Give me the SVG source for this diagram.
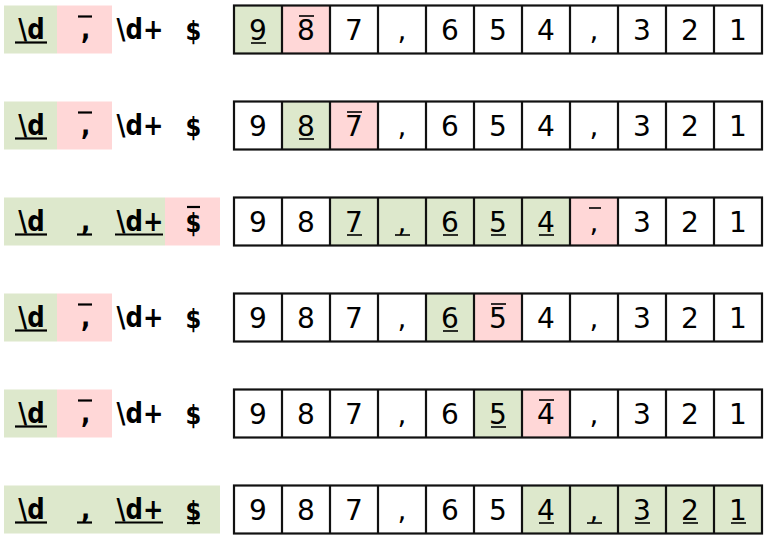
<svg xmlns="http://www.w3.org/2000/svg" width="767" height="537" viewBox="0 0 767 537">
<style>
.g{fill:#dde8cc}
.p{fill:#ffd7d7}
.grid{fill:none;stroke:#111;stroke-width:2.2}
.pt{font-family:"DejaVu Sans",sans-serif;font-weight:bold;font-size:28px;fill:#000;text-anchor:middle}
.ds{font-size:26px}
.ct{font-family:"DejaVu Sans",sans-serif;font-size:28px;fill:#000;text-anchor:middle}
.ul{stroke:#000;stroke-width:2.2}
.dl{stroke:#000;stroke-width:1.6}
</style>
<defs>
<g id="gridlines">
<rect class="grid" x="234" y="0" width="528" height="48"/>
<path class="grid" d="M282 0V48M330 0V48M378 0V48M426 0V48M474 0V48M522 0V48M570 0V48M618 0V48M666 0V48M714 0V48"/>
</g>
<g id="digits">
<text class="ct" x="258" y="34">9</text>
<text class="ct" x="306" y="34">8</text>
<text class="ct" x="354" y="34">7</text>
<text class="ct" x="402" y="34">,</text>
<text class="ct" x="450" y="34">6</text>
<text class="ct" x="498" y="34">5</text>
<text class="ct" x="546" y="34">4</text>
<text class="ct" x="594" y="34">,</text>
<text class="ct" x="642" y="34">3</text>
<text class="ct" x="690" y="34">2</text>
<text class="ct" x="738" y="34">1</text>
</g>
<g id="pattern" transform="scale(0.87,1)">
<text class="pt" x="36.2" y="33.8">\d</text>
<text class="pt" x="98.3" y="33.8">,</text>
<text class="pt" x="160.9" y="33.8">\d+</text>
<text class="pt ds" x="222.4" y="34.5">$</text>
</g>
</defs>

<g id="row1" transform="translate(0,5.5)">
<rect class="g" x="4" y="0" width="53" height="48"/>
<rect class="p" x="57" y="0" width="55" height="48"/>
<rect class="g" x="234" y="0" width="48" height="48"/>
<rect class="p" x="282" y="0" width="48" height="48"/>
<use href="#pattern"/>
<line class="ul" x1="15" y1="37" x2="47" y2="37"/>
<line class="ul" x1="78" y1="11" x2="92" y2="11"/>
<use href="#digits"/>
<line class="dl" x1="251" y1="37.5" x2="266" y2="37.5"/>
<line class="dl" x1="299" y1="10.5" x2="314" y2="10.5"/>
<use href="#gridlines"/>
</g>

<g id="row2" transform="translate(0,101.5)">
<rect class="g" x="4" y="0" width="53" height="48"/>
<rect class="p" x="57" y="0" width="55" height="48"/>
<rect class="g" x="282" y="0" width="48" height="48"/>
<rect class="p" x="330" y="0" width="48" height="48"/>
<use href="#pattern"/>
<line class="ul" x1="15" y1="37" x2="47" y2="37"/>
<line class="ul" x1="78" y1="11" x2="92" y2="11"/>
<use href="#digits"/>
<line class="dl" x1="299" y1="37.5" x2="314" y2="37.5"/>
<line class="dl" x1="347" y1="10.5" x2="362" y2="10.5"/>
<use href="#gridlines"/>
</g>

<g id="row3" transform="translate(0,197.5)">
<rect class="g" x="4" y="0" width="161" height="48"/>
<rect class="p" x="165" y="0" width="55" height="48"/>
<rect class="g" x="330" y="0" width="240" height="48"/>
<rect class="p" x="570" y="0" width="48" height="48"/>
<use href="#pattern"/>
<line class="ul" x1="15" y1="37" x2="47" y2="37"/>
<line class="ul" x1="77" y1="37" x2="92" y2="37"/>
<line class="ul" x1="115" y1="37" x2="163" y2="37"/>
<line class="ul" x1="187" y1="9.5" x2="200" y2="9.5"/>
<use href="#digits"/>
<line class="dl" x1="347" y1="37.5" x2="362" y2="37.5"/>
<line class="dl" x1="395" y1="37.5" x2="410" y2="37.5"/>
<line class="dl" x1="443" y1="37.5" x2="458" y2="37.5"/>
<line class="dl" x1="491" y1="37.5" x2="506" y2="37.5"/>
<line class="dl" x1="539" y1="37.5" x2="554" y2="37.5"/>
<line class="dl" x1="589" y1="10.5" x2="601" y2="10.5"/>
<use href="#gridlines"/>
</g>

<g id="row4" transform="translate(0,293.5)">
<rect class="g" x="4" y="0" width="53" height="48"/>
<rect class="p" x="57" y="0" width="55" height="48"/>
<rect class="g" x="426" y="0" width="48" height="48"/>
<rect class="p" x="474" y="0" width="48" height="48"/>
<use href="#pattern"/>
<line class="ul" x1="15" y1="37" x2="47" y2="37"/>
<line class="ul" x1="78" y1="11" x2="92" y2="11"/>
<use href="#digits"/>
<line class="dl" x1="443" y1="37.5" x2="458" y2="37.5"/>
<line class="dl" x1="491" y1="10.5" x2="506" y2="10.5"/>
<use href="#gridlines"/>
</g>

<g id="row5" transform="translate(0,389.5)">
<rect class="g" x="4" y="0" width="53" height="48"/>
<rect class="p" x="57" y="0" width="55" height="48"/>
<rect class="g" x="474" y="0" width="48" height="48"/>
<rect class="p" x="522" y="0" width="48" height="48"/>
<use href="#pattern"/>
<line class="ul" x1="15" y1="37" x2="47" y2="37"/>
<line class="ul" x1="78" y1="11" x2="92" y2="11"/>
<use href="#digits"/>
<line class="dl" x1="491" y1="37.5" x2="506" y2="37.5"/>
<line class="dl" x1="539" y1="10.5" x2="554" y2="10.5"/>
<use href="#gridlines"/>
</g>

<g id="row6" transform="translate(0,485.5)">
<rect class="g" x="4" y="0" width="216" height="48"/>
<rect class="g" x="522" y="0" width="240" height="48"/>
<use href="#pattern"/>
<line class="ul" x1="15" y1="37" x2="47" y2="37"/>
<line class="ul" x1="77" y1="37" x2="92" y2="37"/>
<line class="ul" x1="115" y1="37" x2="163" y2="37"/>
<line class="ul" x1="187" y1="37.5" x2="200" y2="37.5"/>
<use href="#digits"/>
<line class="dl" x1="539" y1="37.5" x2="554" y2="37.5"/>
<line class="dl" x1="587" y1="37.5" x2="602" y2="37.5"/>
<line class="dl" x1="635" y1="37.5" x2="650" y2="37.5"/>
<line class="dl" x1="683" y1="37.5" x2="698" y2="37.5"/>
<line class="dl" x1="731" y1="37.5" x2="746" y2="37.5"/>
<use href="#gridlines"/>
</g>
</svg>
